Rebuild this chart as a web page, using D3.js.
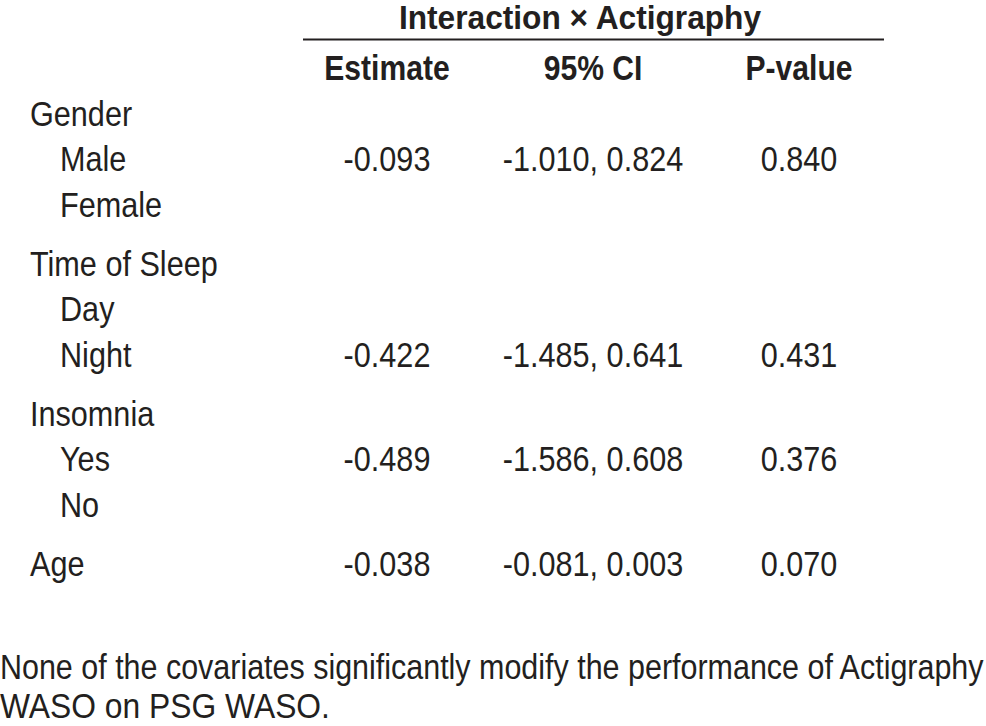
<!DOCTYPE html>
<html>
<head>
<meta charset="utf-8">
<script src="https://cdn.jsdelivr.net/npm/d3@7"></script>
<style>
  body { margin: 0; background: #fff; }
  svg text { font-family: "Liberation Sans", Arial, sans-serif; fill: #231f20; }
</style>
</head>
<body>
<div id="chart"></div>
<script>
// table content
var rowLabels = ["Gender", "Male", "Female", "Time of Sleep", "Day", "Night", "Insomnia", "Yes", "No", "Age"];
var rowIndent = [0, 1, 1, 0, 1, 1, 0, 1, 1, 0];
var rowGroup  = [0, 0, 0, 1, 1, 1, 2, 2, 2, 3];
var estimates = [null, "-0.093", null, null, null, "-0.422", null, "-0.489", null, "-0.038"];
var ciLow     = [null, "-1.010", null, null, null, "-1.485", null, "-1.586", null, "-0.081"];
var ciHigh    = [null, "0.824", null, null, null, "0.641", null, "0.608", null, "0.003"];
var pValues   = [null, "0.840", null, null, null, "0.431", null, "0.376", null, "0.070"];
var columns = ["Estimate", "95% CI", "P-value"];
var spanTitle = "Interaction \u00d7 Actigraphy";
var footnote = ["None of the covariates significantly modify the performance of Actigraphy",
                "WASO on PSG WASO."];

var W = 986, H = 726;
var svg = d3.select("#chart").append("svg")
    .attr("width", W)
    .attr("height", H);

var colX = d3.scalePoint().domain(columns).range([387, 799]);
var fs = 35;
var sx = 0.875;   // condensed look (no narrow font installed)

// add a horizontally condensed text
function addText(parent, x, y, str, opts){
    opts = opts || {};
    return parent.append("text")
        .attr("transform", "translate(" + x + "," + y + ") scale(" + (opts.sx || sx) + ",1)")
        .attr("text-anchor", opts.anchor || "start")
        .attr("font-weight", opts.bold ? "bold" : null)
        .attr("font-size", opts.size || fs)
        .text(str);
}

// spanning header
addText(svg, 580, 29, spanTitle, {anchor: "middle", bold: true, sx: 0.96, size: 33});

svg.append("line")
    .attr("x1", 303).attr("x2", 884)
    .attr("y1", 39.5).attr("y2", 39.5)
    .attr("stroke", "#231f20")
    .attr("stroke-width", 2);

columns.forEach(function(c){
    addText(svg, colX(c), 80, c, {anchor: "middle", bold: true, sx: 0.86});
});

// row positions: fixed step per row plus extra gap between groups
var y = function(i){ return 125.5 + i*45.5 + rowGroup[i]*13.5; };

rowLabels.forEach(function(label, i){
    var g = svg.append("g").attr("class", "row");
    addText(g, rowIndent[i] ? 60 : 30, y(i), label);
    if(estimates[i] !== null){
        addText(g, colX("Estimate"), y(i), estimates[i], {anchor: "middle"});
        addText(g, colX("95% CI"), y(i), ciLow[i] + ", " + ciHigh[i], {anchor: "middle"});
        addText(g, colX("P-value"), y(i), pValues[i], {anchor: "middle"});
    }
});

// footnote, fitted to the widths seen in the reference
function fitLine(str, yPos, width){
    var t = addText(svg, 0, yPos, str, {sx: 1});
    var k = width / t.node().getComputedTextLength();
    t.attr("transform", "translate(0," + yPos + ") scale(" + k + ",1)");
}
fitLine(footnote[0], 679, 984);
fitLine(footnote[1], 718, 330);
</script>
</body>
</html>
